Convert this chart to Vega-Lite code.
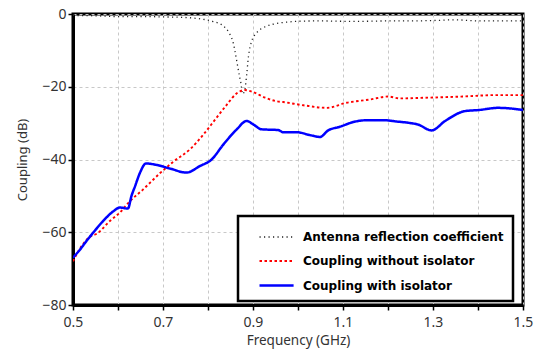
{
  "$schema": "https://vega.github.io/schema/vega-lite/v6.json",
  "width": 450,
  "height": 291,
  "autosize": "none",
  "padding": {"left": 73, "top": 14, "right": 16, "bottom": 44},
  "background": "white",
  "config": {
    "font": "Noto Sans",
    "view": {"stroke": "black", "strokeWidth": 3}
  },
  "data": {"values": [
    {"f":0.5,"db":-0.4,"s":"Antenna reflection coefficient"},
    {"f":0.55,"db":-0.5,"s":"Antenna reflection coefficient"},
    {"f":0.6,"db":-0.7,"s":"Antenna reflection coefficient"},
    {"f":0.65,"db":-0.7,"s":"Antenna reflection coefficient"},
    {"f":0.7,"db":-0.8,"s":"Antenna reflection coefficient"},
    {"f":0.74,"db":-0.9,"s":"Antenna reflection coefficient"},
    {"f":0.78,"db":-1.3,"s":"Antenna reflection coefficient"},
    {"f":0.81,"db":-2.0,"s":"Antenna reflection coefficient"},
    {"f":0.834,"db":-3.3,"s":"Antenna reflection coefficient"},
    {"f":0.847,"db":-5.2,"s":"Antenna reflection coefficient"},
    {"f":0.856,"db":-7.9,"s":"Antenna reflection coefficient"},
    {"f":0.864,"db":-13,"s":"Antenna reflection coefficient"},
    {"f":0.87,"db":-17.1,"s":"Antenna reflection coefficient"},
    {"f":0.873,"db":-18.9,"s":"Antenna reflection coefficient"},
    {"f":0.877,"db":-22,"s":"Antenna reflection coefficient"},
    {"f":0.882,"db":-20.7,"s":"Antenna reflection coefficient"},
    {"f":0.886,"db":-16.6,"s":"Antenna reflection coefficient"},
    {"f":0.89,"db":-11.6,"s":"Antenna reflection coefficient"},
    {"f":0.897,"db":-7.5,"s":"Antenna reflection coefficient"},
    {"f":0.908,"db":-5.2,"s":"Antenna reflection coefficient"},
    {"f":0.927,"db":-3.5,"s":"Antenna reflection coefficient"},
    {"f":0.953,"db":-2.6,"s":"Antenna reflection coefficient"},
    {"f":0.978,"db":-2.2,"s":"Antenna reflection coefficient"},
    {"f":1.0,"db":-2.0,"s":"Antenna reflection coefficient"},
    {"f":1.05,"db":-1.9,"s":"Antenna reflection coefficient"},
    {"f":1.1,"db":-2.0,"s":"Antenna reflection coefficient"},
    {"f":1.15,"db":-2.0,"s":"Antenna reflection coefficient"},
    {"f":1.2,"db":-1.9,"s":"Antenna reflection coefficient"},
    {"f":1.25,"db":-1.9,"s":"Antenna reflection coefficient"},
    {"f":1.3,"db":-1.8,"s":"Antenna reflection coefficient"},
    {"f":1.35,"db":-1.6,"s":"Antenna reflection coefficient"},
    {"f":1.4,"db":-1.9,"s":"Antenna reflection coefficient"},
    {"f":1.45,"db":-1.9,"s":"Antenna reflection coefficient"},
    {"f":1.5,"db":-1.9,"s":"Antenna reflection coefficient"},

    {"f":0.5,"db":-68,"s":"Coupling without isolator"},
    {"f":0.519,"db":-63.8,"s":"Coupling without isolator"},
    {"f":0.538,"db":-61.2,"s":"Coupling without isolator"},
    {"f":0.553,"db":-60.4,"s":"Coupling without isolator"},
    {"f":0.582,"db":-56.9,"s":"Coupling without isolator"},
    {"f":0.604,"db":-54.6,"s":"Coupling without isolator"},
    {"f":0.623,"db":-51.9,"s":"Coupling without isolator"},
    {"f":0.656,"db":-48.2,"s":"Coupling without isolator"},
    {"f":0.693,"db":-43.8,"s":"Coupling without isolator"},
    {"f":0.723,"db":-40.6,"s":"Coupling without isolator"},
    {"f":0.76,"db":-37.2,"s":"Coupling without isolator"},
    {"f":0.79,"db":-33.1,"s":"Coupling without isolator"},
    {"f":0.816,"db":-29,"s":"Coupling without isolator"},
    {"f":0.842,"db":-24.9,"s":"Coupling without isolator"},
    {"f":0.864,"db":-21.8,"s":"Coupling without isolator"},
    {"f":0.882,"db":-20.9,"s":"Coupling without isolator"},
    {"f":0.901,"db":-21.5,"s":"Coupling without isolator"},
    {"f":0.927,"db":-23,"s":"Coupling without isolator"},
    {"f":0.953,"db":-24.0,"s":"Coupling without isolator"},
    {"f":0.967,"db":-24.2,"s":"Coupling without isolator"},
    {"f":1.012,"db":-25.1,"s":"Coupling without isolator"},
    {"f":1.064,"db":-25.8,"s":"Coupling without isolator"},
    {"f":1.108,"db":-24.4,"s":"Coupling without isolator"},
    {"f":1.16,"db":-23.5,"s":"Coupling without isolator"},
    {"f":1.2,"db":-22.7,"s":"Coupling without isolator"},
    {"f":1.227,"db":-23.2,"s":"Coupling without isolator"},
    {"f":1.289,"db":-23,"s":"Coupling without isolator"},
    {"f":1.364,"db":-22.7,"s":"Coupling without isolator"},
    {"f":1.438,"db":-22.3,"s":"Coupling without isolator"},
    {"f":1.5,"db":-22.3,"s":"Coupling without isolator"},

    {"f":0.5,"db":-67,"s":"Coupling with isolator"},
    {"f":0.516,"db":-64.7,"s":"Coupling with isolator"},
    {"f":0.53,"db":-62.4,"s":"Coupling with isolator"},
    {"f":0.545,"db":-60.1,"s":"Coupling with isolator"},
    {"f":0.567,"db":-56.9,"s":"Coupling with isolator"},
    {"f":0.59,"db":-54.2,"s":"Coupling with isolator"},
    {"f":0.604,"db":-53.2,"s":"Coupling with isolator"},
    {"f":0.622,"db":-53.5,"s":"Coupling with isolator"},
    {"f":0.63,"db":-50,"s":"Coupling with isolator"},
    {"f":0.638,"db":-47.3,"s":"Coupling with isolator"},
    {"f":0.649,"db":-43.6,"s":"Coupling with isolator"},
    {"f":0.662,"db":-41.1,"s":"Coupling with isolator"},
    {"f":0.686,"db":-41.5,"s":"Coupling with isolator"},
    {"f":0.716,"db":-42.5,"s":"Coupling with isolator"},
    {"f":0.752,"db":-43.6,"s":"Coupling with isolator"},
    {"f":0.782,"db":-41.8,"s":"Coupling with isolator"},
    {"f":0.808,"db":-40,"s":"Coupling with isolator"},
    {"f":0.834,"db":-35.9,"s":"Coupling with isolator"},
    {"f":0.864,"db":-31.7,"s":"Coupling with isolator"},
    {"f":0.886,"db":-29.4,"s":"Coupling with isolator"},
    {"f":0.901,"db":-30.4,"s":"Coupling with isolator"},
    {"f":0.919,"db":-31.7,"s":"Coupling with isolator"},
    {"f":0.956,"db":-31.9,"s":"Coupling with isolator"},
    {"f":0.967,"db":-32.5,"s":"Coupling with isolator"},
    {"f":0.997,"db":-32.5,"s":"Coupling with isolator"},
    {"f":1.027,"db":-33.3,"s":"Coupling with isolator"},
    {"f":1.049,"db":-33.8,"s":"Coupling with isolator"},
    {"f":1.067,"db":-32,"s":"Coupling with isolator"},
    {"f":1.093,"db":-31,"s":"Coupling with isolator"},
    {"f":1.123,"db":-29.7,"s":"Coupling with isolator"},
    {"f":1.153,"db":-29.2,"s":"Coupling with isolator"},
    {"f":1.19,"db":-29.2,"s":"Coupling with isolator"},
    {"f":1.223,"db":-29.6,"s":"Coupling with isolator"},
    {"f":1.245,"db":-29.9,"s":"Coupling with isolator"},
    {"f":1.267,"db":-30.4,"s":"Coupling with isolator"},
    {"f":1.297,"db":-32,"s":"Coupling with isolator"},
    {"f":1.327,"db":-29.4,"s":"Coupling with isolator"},
    {"f":1.371,"db":-26.7,"s":"Coupling with isolator"},
    {"f":1.401,"db":-26.4,"s":"Coupling with isolator"},
    {"f":1.445,"db":-25.8,"s":"Coupling with isolator"},
    {"f":1.475,"db":-26,"s":"Coupling with isolator"},
    {"f":1.5,"db":-26.4,"s":"Coupling with isolator"}
  ]},
  "mark": {"type": "line", "clip": true, "strokeCap": "butt", "interpolate": "monotone"},
  "encoding": {
    "x": {
      "field": "f", "type": "quantitative",
      "scale": {"domain": [0.5, 1.5], "nice": false},
      "axis": {
        "title": "Frequency (GHz)",
        "values": [0.5,0.6,0.7,0.8,0.9,1.0,1.1,1.2,1.3,1.4,1.5],
        "labelExpr": "indexof(['0.5','0.7','0.9','1.1','1.3','1.5'], format(datum.value, '.1f')) >= 0 ? format(datum.value, '.1f') : ''",
        "labelOverlap": false, "labelFlush": false,
        "grid": true, "gridColor": "#c8c8c8", "gridDash": [3, 3], "gridWidth": 1,
        "domainColor": "black", "domainWidth": 3,
        "tickColor": "black", "tickSize": 5, "tickWidth": 1.5,
        "labelFontSize": 14, "labelColor": "#333", "labelPadding": 5,
        "titleFontSize": 13.5, "titleFontWeight": "normal", "titleColor": "#333", "titlePadding": 4
      }
    },
    "y": {
      "field": "db", "type": "quantitative",
      "scale": {"domain": [-80, 0], "nice": false},
      "axis": {
        "title": "Coupling (dB)",
        "values": [-80, -60, -40, -20, 0],
        "grid": true, "gridColor": "#c8c8c8", "gridDash": [3, 3], "gridWidth": 1,
        "domainColor": "black", "domainWidth": 3,
        "tickColor": "black", "tickSize": 5, "tickWidth": 1.5,
        "labelFontSize": 14, "labelColor": "#333", "labelPadding": 2,
        "titleFontSize": 13, "titleFontWeight": "normal", "titleColor": "#333", "titlePadding": 12
      }
    },
    "color": {
      "field": "s", "type": "nominal",
      "scale": {
        "domain": ["Antenna reflection coefficient", "Coupling without isolator", "Coupling with isolator"],
        "range": ["#222222", "#ff0000", "#0000ff"]
      },
      "legend": {
        "title": null, "orient": "none", "legendX": 165, "legendY": 202,
        "direction": "vertical",
        "strokeColor": "black", "fillColor": "white",
        "padding": 9, "rowPadding": 6,
        "symbolType": "M0,0H3.1", "symbolSize": 484, "symbolStrokeWidth": 2.5,
        "labelFont": "DejaVu Sans",
        "labelFontSize": 12, "labelFontWeight": "bold", "labelColor": "black",
        "labelOffset": 31, "labelLimit": 300,
        "encode": {"legend": {"update": {"strokeWidth": {"value": 2.5}}}}
      }
    },
    "strokeDash": {
      "field": "s", "type": "nominal",
      "scale": {
        "domain": ["Antenna reflection coefficient", "Coupling without isolator", "Coupling with isolator"],
        "range": [[1.2, 3.3], [2.5, 2.5], [1, 0]]
      },
      "legend": null
    },
    "strokeWidth": {
      "field": "s", "type": "nominal",
      "scale": {
        "domain": ["Antenna reflection coefficient", "Coupling without isolator", "Coupling with isolator"],
        "range": [1.3, 2.5, 3]
      },
      "legend": null
    }
  }
}
